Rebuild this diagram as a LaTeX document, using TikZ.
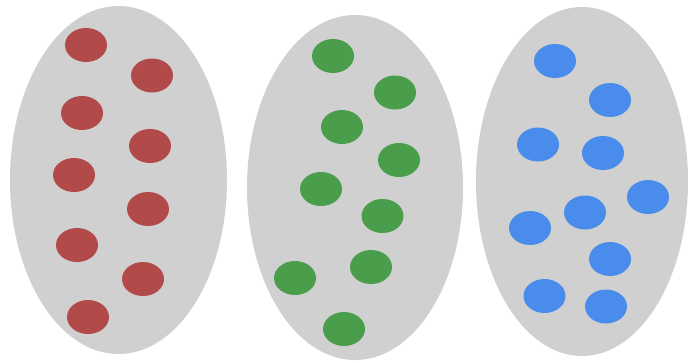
\documentclass[tikz,border=0pt]{standalone}
\usepackage{tikz}
\usetikzlibrary{calc}
\usepackage{xcolor}

\definecolor{setgrey}{RGB}{208,208,208}
\definecolor{redpt}{RGB}{178,74,74}
\definecolor{greenpt}{RGB}{74,157,74}
\definecolor{bluept}{RGB}{74,140,235}

\begin{document}
\begin{tikzpicture}[
  x=0.025cm, y=-0.025cm,
  setbg/.style = {fill=setgrey},
  rpt/.style   = {fill=redpt},
  gpt/.style   = {fill=greenpt},
  bpt/.style   = {fill=bluept},
]
\useasboundingbox (0,0) rectangle (688,362);

% ── Sets ─────────────────────────────────────────────────────────────────────
\fill[setbg] (118.5,180)   ellipse (108.5 and 174);
\fill[setbg] (355,187.5)   ellipse (108 and 172.5);
\fill[setbg] (582,181.5)   ellipse (106 and 174.5);

% ── Red points ───────────────────────────────────────────────────────────────
\foreach \px/\py in {86/45, 152/75.5, 82/113, 150/146, 74/175,
                     148/209, 77/245, 143/279, 88/317}
  \fill[rpt] (\px,\py) ellipse (21 and 17);

% ── Green points ─────────────────────────────────────────────────────────────
\foreach \px/\py in {333/56, 395/92.5, 342/127, 399/160, 321/189,
                     382.5/216, 295/278, 371/267, 344/329}
  \fill[gpt] (\px,\py) ellipse (21 and 17);

% ── Blue points ──────────────────────────────────────────────────────────────
\foreach \px/\py in {555/61, 610/100, 538/144.5, 603/153, 648/197,
                     585/212.5, 530/228, 610/259, 544.5/296, 606/306.5}
  \fill[bpt] (\px,\py) ellipse (21 and 17);

\end{tikzpicture}
\end{document}
